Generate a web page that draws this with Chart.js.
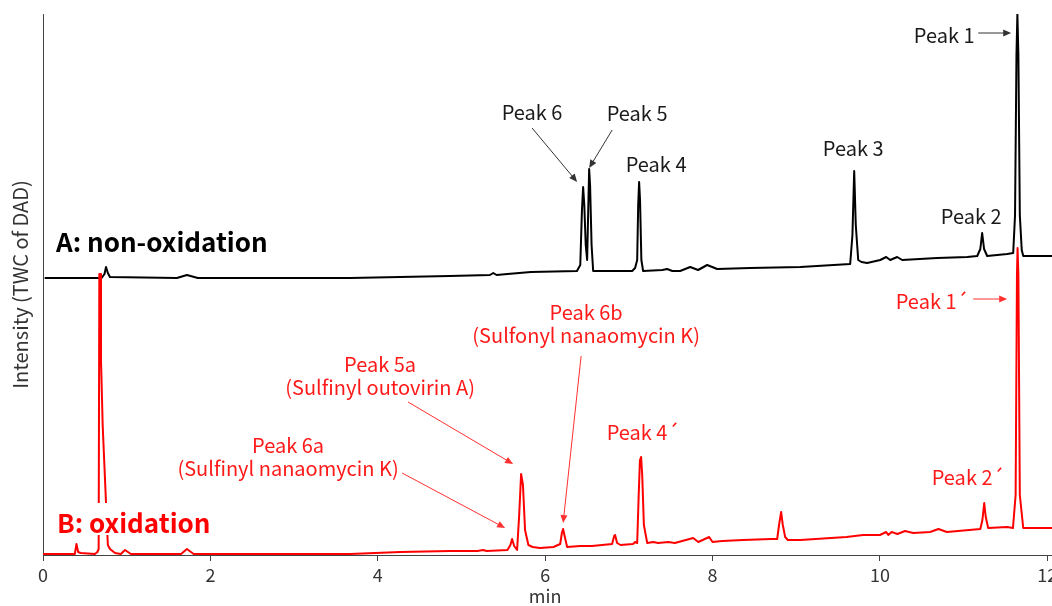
<!DOCTYPE html>
<html><head><meta charset="utf-8">
<script src="https://cdn.jsdelivr.net/npm/chart.js@4.4.1/dist/chart.umd.min.js"></script>
<style>
html,body{margin:0;padding:0;background:#fff;overflow:hidden;}
#wrap{position:relative;width:1080px;height:606px;}
</style></head><body>
<div id="wrap"><canvas id="c"></canvas></div>
<script>
const FONT = '"Noto Sans CJK JP", "Noto Sans", sans-serif';

// x tick values (min)
const xTickValues = [0, 2, 4, 6, 8, 10, 12];

// Trace A: non-oxidation (retention time in min, signal in arbitrary units incl. display offset)
const timeA = [0.02,0.70,0.735,0.753,0.775,0.80,1.60,1.72,1.85,3.67,4.86,5.34,5.38,5.42,5.55,5.83,6.38,
  6.42,6.44,6.454,6.468,6.485,6.502,6.515,6.526,6.537,6.555,6.574,
  7.04,7.075,7.10,7.112,7.123,7.134,7.15,7.171,
  7.40,7.458,7.52,7.613,7.733,7.828,7.936,8.056,8.45,9.05,
  9.645,9.672,9.693,9.712,9.741,9.78,9.848,
  10.004,10.075,10.123,10.207,10.266,10.685,11.044,11.163,
  11.20,11.222,11.245,11.282,
  11.521,11.593,11.615,11.632,11.643,11.655,11.672,11.695,11.713,12.2];
const signalA = [277,277,281,288,282,278,277,280,277,277,279,280,282,280,281,283,284,
  290,345,368,350,310,295,345,386,370,310,284,
  284,287,295,350,373,355,295,284,
  285,286,284,284,288,285,290,286,287,288,
  291,320,384,330,295,293,292,
  295,298,295,298,295,297,298,299,
  306,322,306,299,
  301,302,340,500,541,500,340,305,299,299];

// Trace B: oxidation
const timeB = [0.00,0.38,0.40,0.42,0.45,0.62,0.65,0.665,0.673,0.682,0.693,0.713,0.753,0.775,0.80,0.861,0.93,0.98,1.05,
  1.65,1.72,1.80,3.67,4.27,4.86,5.19,5.26,5.30,5.55,
  5.585,5.605,5.63,5.665,5.69,5.713,5.735,5.76,5.80,5.85,5.94,6.10,
  6.18,6.20,6.215,6.23,6.263,6.42,6.56,
  6.80,6.825,6.836,6.86,6.90,7.05,7.075,7.10,
  7.118,7.133,7.147,7.16,7.18,7.22,7.29,7.35,7.47,7.55,7.769,7.83,7.96,8.0,8.115,8.366,8.70,8.773,
  8.795,8.82,8.84,8.868,8.90,9.05,9.60,9.80,10.00,10.075,10.10,10.14,10.21,10.30,10.40,10.60,10.70,10.80,11.20,
  11.225,11.247,11.265,11.294,11.52,11.59,11.622,11.638,11.645,11.655,11.672,11.713,12.2];
const signalB = [1,1,11,3,2,1,3,6,281,281,195,130,52,10,6,2,1,5,1,
  1,6,1,1,3,4,4,5,4,5,
  10,16,9,5,40,81,70,25,10,8,7,8,
  11,22,26,20,8,9,9,
  11,19,20,12,10,11,13,12,
  60,95,98,80,30,12,13,12,13,12,17,13,18,13,14,15,16,16,
  30,43,30,18,15,15,18,20,20,23,20,23,21,24,22,23,26,23,26,
  35,52,38,27,28,27,60,280,307,280,60,27,27];

// Annotations: text anchored at (min, signal)
const blackNotes = [
  {t:['Peak 6'], x:5.844, y:443},
  {t:['Peak 5'], x:7.099, y:442},
  {t:['Peak 4'], x:7.326, y:391},
  {t:['Peak 3'], x:9.681, y:407},
  {t:['Peak 2'], x:11.091, y:339},
  {t:['Peak 1'], x:10.768, y:520}
];
const redNotes = [
  {t:['Peak 1\u00B4'], x:10.625, y:254},
  {t:['Peak 4\u00B4'], x:7.171, y:123},
  {t:['Peak 2\u00B4'], x:11.055, y:78},
  {t:['Peak 6b','(Sulfonyl nanaomycin K)'], x:6.490, y:243},
  {t:['Peak 5a','(Sulfinyl outovirin A)'], x:4.028, y:191},
  {t:['Peak 6a','(Sulfinyl nanaomycin K)'], x:2.928, y:110}
];
const blackArrows = [
  [5.844,427, 6.382,373],
  [6.801,425, 6.526,387],
  [11.175,522, 11.569,522]
];
const redArrows = [
  [11.115,256, 11.521,256],
  [6.430,199, 6.215,32],
  [4.362,153, 5.617,91],
  [4.291,82, 5.522,27]
];
const panelTitles = [
  {t:'A: non-oxidation', x:0.155, y:313, c:'#000000'},
  {t:'B: oxidation', x:0.167, y:32, c:'#ff0000'}
];
const xAxisTitle = {t:'min', x:6.0};

function arrow(ctx, x1, y1, x2, y2, color) {
  const ang = Math.atan2(y2 - y1, x2 - x1);
  const hl = 8, hw = 3.5;
  ctx.save();
  ctx.strokeStyle = color; ctx.fillStyle = color; ctx.lineWidth = 1;
  ctx.beginPath();
  ctx.moveTo(x1, y1);
  ctx.lineTo(x2 - Math.cos(ang) * hl * 0.8, y2 - Math.sin(ang) * hl * 0.8);
  ctx.stroke();
  ctx.beginPath();
  ctx.moveTo(x2, y2);
  ctx.lineTo(x2 - hl * Math.cos(ang) + hw * Math.sin(ang), y2 - hl * Math.sin(ang) - hw * Math.cos(ang));
  ctx.lineTo(x2 - hl * Math.cos(ang) - hw * Math.sin(ang), y2 - hl * Math.sin(ang) + hw * Math.cos(ang));
  ctx.closePath();
  ctx.fill();
  ctx.restore();
}

const notesPlugin = {
  id: 'notes',
  afterDatasetsDraw(chart) {
    const {ctx, scales: {x, y}} = chart;
    ctx.save();
    ctx.textAlign = 'center';
    ctx.textBaseline = 'middle';
    ctx.font = '20px ' + FONT;
    const drawNotes = (list, color) => {
      ctx.fillStyle = color;
      list.forEach(n => {
        const px = x.getPixelForValue(n.x), py = y.getPixelForValue(n.y);
        n.t.forEach((line, i) => ctx.fillText(line, px, py + i * 23));
      });
    };
    drawNotes(blackNotes, '#1a1a1a');
    drawNotes(redNotes, '#ff1a1a');
    blackArrows.forEach(a => arrow(ctx, x.getPixelForValue(a[0]), y.getPixelForValue(a[1]), x.getPixelForValue(a[2]), y.getPixelForValue(a[3]), '#333333'));
    redArrows.forEach(a => arrow(ctx, x.getPixelForValue(a[0]), y.getPixelForValue(a[1]), x.getPixelForValue(a[2]), y.getPixelForValue(a[3]), '#ff3030'));
    ctx.font = 'bold 26px ' + FONT;
    ctx.textAlign = 'left';
    panelTitles.forEach(p => {
      const px = x.getPixelForValue(p.x), py = y.getPixelForValue(p.y);
      const w = ctx.measureText(p.t).width;
      ctx.fillStyle = '#ffffff';
      ctx.fillRect(px - 3, py - 20, w + 6, 32);
      ctx.fillStyle = p.c;
      ctx.fillText(p.t, px, py);
    });
    // x-axis title, centred under its value
    ctx.font = '18px ' + FONT;
    ctx.textAlign = 'center';
    ctx.fillStyle = '#333';
    ctx.fillText(xAxisTitle.t, x.getPixelForValue(xAxisTitle.x), x.bottom - 10);
    ctx.restore();
  }
};

new Chart(document.getElementById('c'), {
  type: 'line',
  data: {
    datasets: [
      {label: 'B: oxidation', data: timeB.map((t, i) => ({x: t, y: signalB[i]})),
       borderColor: '#ff0000', borderWidth: 2, pointRadius: 0, tension: 0, fill: false, borderJoinStyle: 'round'},
      {label: 'A: non-oxidation', data: timeA.map((t, i) => ({x: t, y: signalA[i]})),
       borderColor: '#000000', borderWidth: 2, pointRadius: 0, tension: 0, fill: false, borderJoinStyle: 'round'}
    ]
  },
  options: {
    responsive: true,
    maintainAspectRatio: false,
    animation: false,
    layout: {padding: {top: 14, right: 16, left: 0, bottom: 0}},
    plugins: {legend: {display: false}, tooltip: {enabled: false}},
    scales: {
      x: {
        type: 'linear', min: 0, max: 12.2,
        afterBuildTicks: s => { s.ticks = xTickValues.map(v => ({value: v})); },
        afterFit: s => { s.height = 51; },
        ticks: {stepSize: 2, includeBounds: false, color: '#333', font: {family: FONT, size: 18}, padding: 3},
        grid: {drawOnChartArea: false, tickLength: 6, color: '#444'},
        border: {color: '#444', width: 1},
        title: {display: false}
      },
      y: {
        min: 0, max: 541,
        afterFit: s => { s.width = 43; },
        ticks: {display: false},
        grid: {display: false},
        border: {display: true, color: '#444', width: 1},
        title: {display: true, text: 'Intensity (TWC of DAD)', color: '#333', font: {family: FONT, size: 20}, padding: {top: 8, bottom: 0}}
      }
    }
  },
  plugins: [notesPlugin]
});
</script>
</body></html>
